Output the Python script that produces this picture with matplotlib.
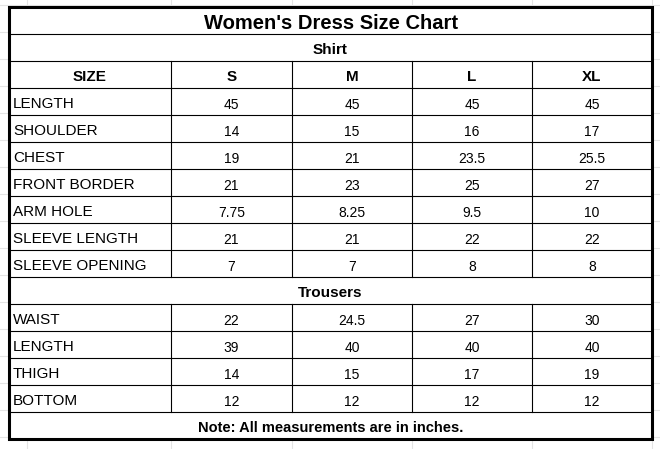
import matplotlib.pyplot as plt

title = "Women's Dress Size Chart"
sizes = ["S", "M", "L", "XL"]
shirt_labels = ["LENGTH", "SHOULDER", "CHEST", "FRONT BORDER", "ARM HOLE",
                "SLEEVE LENGTH", "SLEEVE OPENING"]
shirt_values = [["45", "45", "45", "45"],
                ["14", "15", "16", "17"],
                ["19", "21", "23.5", "25.5"],
                ["21", "23", "25", "27"],
                ["7.75", "8.25", "9.5", "10"],
                ["21", "21", "22", "22"],
                ["7", "7", "8", "8"]]
trouser_labels = ["WAIST", "LENGTH", "THIGH", "BOTTOM"]
trouser_values = [["22", "24.5", "27", "30"],
                  ["39", "40", "40", "40"],
                  ["14", "15", "17", "19"],
                  ["12", "12", "12", "12"]]
note = "Note: All measurements are in inches."

W, H = 660, 449
fig = plt.figure(figsize=(6.6, 4.49), dpi=100)
ax = fig.add_axes([0, 0, 1, 1])
ax.set_xlim(0, W)
ax.set_ylim(H, 0)
ax.axis("off")

left, right, top = 9, 652, 7
rh = 27
cols = [left, 171, 292, 412, 532, right]
n_rows = 16
bottom = top + rh * n_rows

# faint spreadsheet grid in background
for x in [27, 171, 292, 412, 532, 652]:
    ax.plot([x, x], [0, H], color="#e4e4e4", lw=0.8, zorder=0)
for i in range(n_rows + 2):
    y = 5 + i * rh
    ax.plot([0, W], [y, y], color="#e4e4e4", lw=0.8, zorder=0)
ax.add_patch(plt.Rectangle((left, top), right - left, bottom - top,
                           facecolor="white", edgecolor="none", zorder=1))

rows = [("title",), ("section", "Shirt"), ("header",)]
rows += [("data", l, v) for l, v in zip(shirt_labels, shirt_values)]
rows += [("section", "Trousers")]
rows += [("data", l, v) for l, v in zip(trouser_labels, trouser_values)]
rows += [("note",)]

fam = "Liberation Sans"
va = "center_baseline"
for i, row in enumerate(rows):
    y0 = top + i * rh
    yc = y0 + rh / 2 + 1
    if i > 0:
        ax.plot([left, right], [y0, y0], color="black", lw=0.8, zorder=2)
    kind = row[0]
    if kind == "title":
        ax.text((left + right) / 2, yc, title, ha="center", va=va,
                fontsize=14.5, fontweight="bold", family=fam, zorder=3)
    elif kind == "section":
        ax.text((left + right) / 2, yc, row[1], ha="center", va=va,
                fontsize=11, fontweight="bold", family=fam, zorder=3)
    elif kind == "note":
        ax.text((left + right) / 2, yc, note, ha="center", va=va,
                fontsize=10.5, fontweight="bold", family=fam, zorder=3)
    else:
        for x in cols[1:-1]:
            ax.plot([x, x], [y0, y0 + rh], color="black", lw=0.8, zorder=2)
        if kind == "header":
            cells = ["SIZE"] + sizes
            for j, t in enumerate(cells):
                ax.text((cols[j] + cols[j + 1]) / 2, yc, t, ha="center", va=va,
                        fontsize=11, fontweight="bold", family=fam, zorder=3)
        else:
            ax.text(left + 4, yc, row[1], ha="left", va=va,
                    fontsize=11, family=fam, zorder=3)
            for j, t in enumerate(row[2]):
                ax.text((cols[j + 1] + cols[j + 2]) / 2, yc + 1, t, ha="center",
                        va=va, fontsize=10, family=fam, zorder=3)

ax.add_patch(plt.Rectangle((left, top), right - left, bottom - top,
                           facecolor="none", edgecolor="black", lw=2.2, zorder=4))

fig.savefig("out.png", dpi=100)
